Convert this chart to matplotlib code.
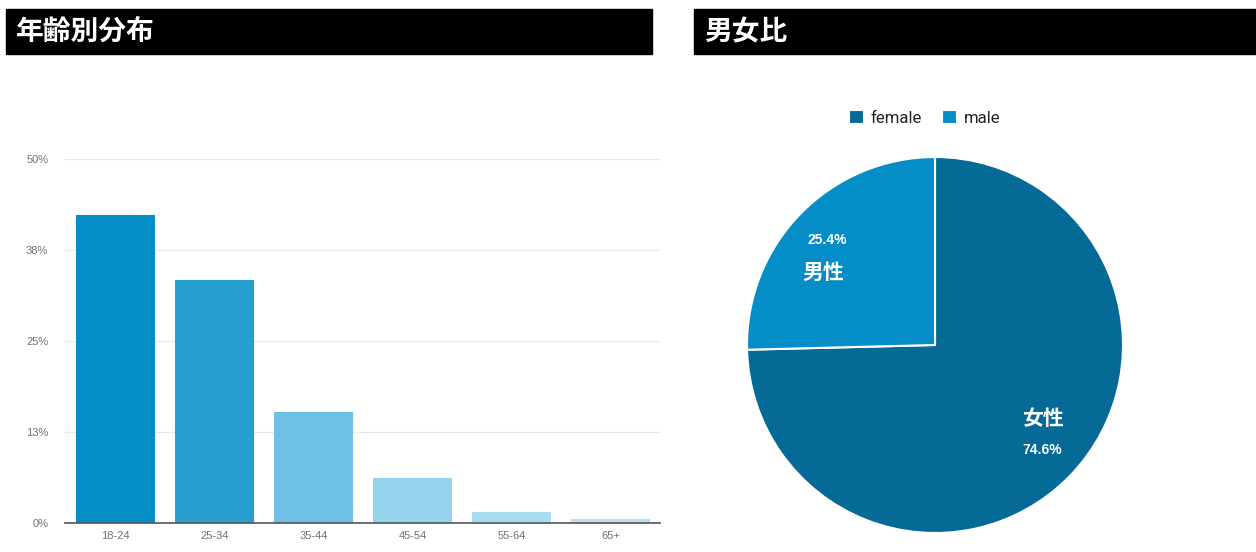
import matplotlib
matplotlib.use("Agg")
import matplotlib.pyplot as plt
import numpy as np
from matplotlib.patches import Rectangle

plt.rcParams['font.family'] = ['Noto Sans CJK JP', 'DejaVu Sans']

# 年齢別分布
age_groups = ['18-24', '25-34', '35-44', '45-54', '55-64', '65+']
age_share = [42.3, 33.4, 15.2, 6.2, 1.5, 0.55]
age_colors = ['#058dc7', '#279fd1', '#6ec0e4', '#95d3ec', '#a8dcf1', '#b4e2f3']
y_ticks = [0, 12.5, 25, 37.5, 50]
y_ticklabels = ['0%', '13%', '25%', '38%', '50%']

# 男女比
gender_keys = ['female', 'male']
gender_names = ['女性', '男性']
gender_share = [74.6, 25.4]
gender_colors = ['#066a96', '#058dc7']

W, H = 1256, 552
fig = plt.figure(figsize=(W / 100, H / 100), dpi=100)

def px_axes(x0, y0, x1, y1):
    # pixel box (top-left origin) -> figure axes
    return fig.add_axes([x0 / W, 1 - y1 / H, (x1 - x0) / W, (y1 - y0) / H])

# title bars
for (x0, x1, title) in [(6, 652, '年齢別分布'), (694, 1256, '男女比')]:
    fig.patches.append(Rectangle((x0 / W, 1 - 54 / H), (x1 - x0) / W, 45 / H,
                                 transform=fig.transFigure, color='black', zorder=0))
    fig.text((x0 + 10) / W, 1 - 32 / H, title, color='white', fontsize=20,
             fontweight='bold', va='center', ha='left')

# bar chart
ax = px_axes(65, 159, 660, 523)
x = np.arange(len(age_groups))
ax.bar(x, age_share, width=0.8, color=age_colors, zorder=2)
ax.set_xlim(-0.51, len(age_groups) - 0.5)
ax.set_ylim(0, 50)
ax.set_yticks(y_ticks)
ax.set_yticklabels(y_ticklabels)
ax.set_xticks(x)
ax.set_xticklabels(age_groups)
for lbl in ax.get_xticklabels() + ax.get_yticklabels():
    lbl.set_family(['Liberation Sans', 'DejaVu Sans'])
ax.tick_params(length=0, labelsize=8, labelcolor='#707070', pad=12)
ax.tick_params(axis='x', pad=6)
ax.grid(axis='y', color='#e8e8e8', lw=0.9, zorder=0)
for s in ['top', 'right', 'left']:
    ax.spines[s].set_visible(False)
ax.spines['bottom'].set_color('#555555')
ax.spines['bottom'].set_linewidth(1.2)

# pie chart
pax = px_axes(935 - 188, 345 - 188, 935 + 188, 345 + 188)
wedges, _ = pax.pie(gender_share, colors=gender_colors, startangle=90,
                    counterclock=False, radius=1.0,
                    wedgeprops=dict(edgecolor='white', linewidth=1.5))
pax.set_xlim(-1, 1)
pax.set_ylim(-1, 1)
pax.set_aspect('equal')

for w, name, share in zip(wedges, gender_names, gender_share):
    mid = np.deg2rad((w.theta1 + w.theta2) / 2)
    cx, cy = 0.8 * np.cos(mid), 0.8 * np.sin(mid)
    # name sits on the side towards the centre line
    dy = -0.17 if cy > 0 else 0.17
    pax.text(cx, cy, f'{share:.1f}%', color='white', fontsize=10,
             family=['Liberation Sans', 'DejaVu Sans'], fontweight='bold',
             ha='center', va='center')
    pax.text(cx - 0.02 if cy > 0 else cx, cy + dy, name, color='white', fontsize=15,
             fontweight='bold', ha='center', va='center')

leg = fig.legend(wedges, gender_keys, loc='center', bbox_to_anchor=(925 / W, 1 - 118 / H),
                 ncol=2, frameon=False, handlelength=0.85, handleheight=0.85,
                 handletextpad=0.45, columnspacing=1.2, labelcolor='#222222',
                 prop=dict(family=['Roboto', 'DejaVu Sans'], size=12))

fig.savefig('out.png', dpi=100)
